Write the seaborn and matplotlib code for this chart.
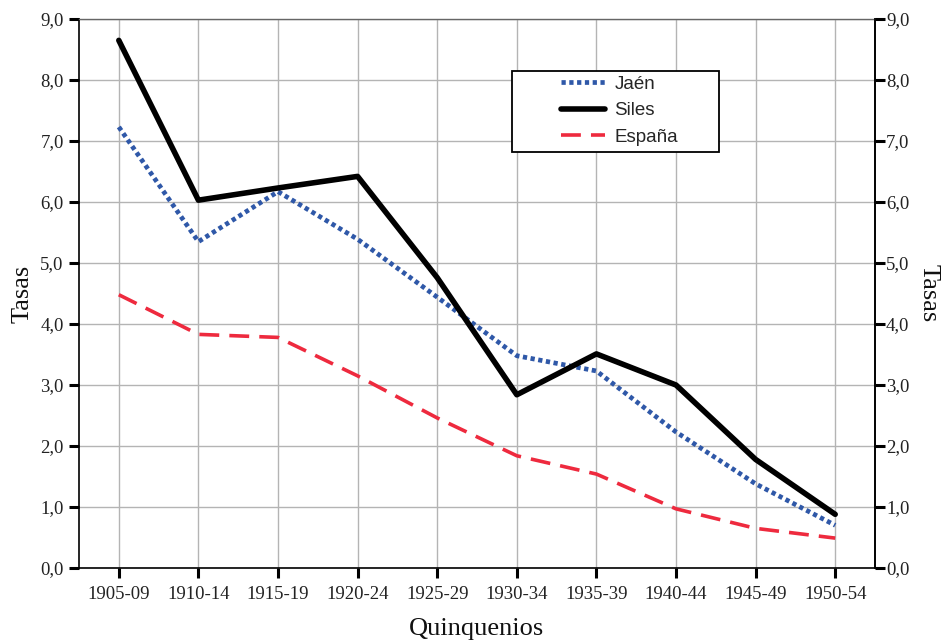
import matplotlib
matplotlib.use("Agg")
import matplotlib.pyplot as plt
from matplotlib.patches import Rectangle
import seaborn as sns
import pandas as pd

periods = ["1905-09", "1910-14", "1915-19", "1920-24", "1925-29",
           "1930-34", "1935-39", "1940-44", "1945-49", "1950-54"]
jaen = [7.23, 5.35, 6.17, 5.39, 4.44, 3.48, 3.23, 2.23, 1.38, 0.70]
siles = [8.65, 6.03, 6.23, 6.42, 4.76, 2.84, 3.51, 3.00, 1.78, 0.88]
espana = [4.48, 3.83, 3.78, 3.15, 2.46, 1.84, 1.54, 0.97, 0.65, 0.49]
yticks = [0, 1, 2, 3, 4, 5, 6, 7, 8, 9]
ytick_labels = ["0,0", "1,0", "2,0", "3,0", "4,0", "5,0", "6,0", "7,0", "8,0", "9,0"]

sns.set_theme(style="white")
plt.rcParams["font.family"] = ["Liberation Serif", "DejaVu Serif"]

fig = plt.figure(figsize=(9.41, 6.42), dpi=100)
ax = fig.add_axes([79/941, 1-568/642, (875-79)/941, (568-19)/642])

df = pd.DataFrame({"periodo": periods, "Jaén": jaen, "Siles": siles, "España": espana})

sns.lineplot(data=df, x="periodo", y="Jaén", ax=ax, color="#2f58a8", lw=3.4,
             label="Jaén", sort=False)
sns.lineplot(data=df, x="periodo", y="Siles", ax=ax, color="#000000", lw=4.0,
             label="Siles", sort=False)
sns.lineplot(data=df, x="periodo", y="España", ax=ax, color="#ee2a3e", lw=2.6,
             label="España", sort=False)
lines = ax.get_lines()
lines[0].set_linestyle((0, (0.9, 0.75)))
lines[0].set_dash_capstyle("butt")
lines[2].set_linestyle((0, (5.5, 2.8)))

ax.set_xlim(-0.5, len(periods) - 0.5)
ax.set_ylim(0, 9)
ax.set_yticks(yticks)
ax.set_yticklabels(ytick_labels)
ax.grid(True, color="#b4b4b4", lw=1.0)
ax.set_axisbelow(True)
for s in ax.spines.values():
    s.set_color("black")
    s.set_linewidth(1.2)
ax.spines["top"].set_color("#666666")
ax.spines["top"].set_linewidth(1.0)
ax.tick_params(axis="both", which="major", direction="out", length=7, width=2.2,
               colors="black", labelsize=13.5, pad=4,
               bottom=True, left=True)
ax.tick_params(axis="x", pad=6)
for t in ax.get_xticklabels() + ax.get_yticklabels():
    t.set_color("#222222")

ax.set_xlabel("Quinquenios", fontsize=19, labelpad=11, color="#111111")
ax.set_ylabel("Tasas", fontsize=19, labelpad=5, color="#111111")

ax2 = ax.twinx()
ax2.set_ylim(0, 9)
ax2.set_yticks(yticks)
ax2.set_yticklabels(ytick_labels)
ax2.tick_params(axis="y", direction="out", length=7, width=2.2, labelsize=13.5,
                right=True, pad=1, colors="black")
for t in ax2.get_yticklabels():
    t.set_color("#222222")
ax2.set_ylabel("Tasas", fontsize=19, rotation=270, labelpad=22, color="#111111")
for s in ax2.spines.values():
    s.set_visible(False)
ax2.spines["right"].set_visible(True)
ax2.spines["right"].set_linewidth(1.2)
ax2.spines["right"].set_color("black")
ax2.grid(False)

# legend: entries without frame, box drawn separately to match reference padding
leg = ax.legend(loc="upper left", bbox_to_anchor=((560 - 79) / 796 - 0.006, (568 - 70) / 549),
                frameon=False,
                prop={"family": "Liberation Sans", "size": 13.5},
                handlelength=2.35, handletextpad=0.5, borderpad=0.3,
                labelspacing=0.5, borderaxespad=0)
frame = Rectangle(((512 - 79) / 796, (568 - 152) / 549),
                  (719 - 512) / 796, (152 - 71) / 549,
                  transform=ax.transAxes, facecolor="white", edgecolor="black",
                  lw=1.3, zorder=4)
ax.add_patch(frame)
leg.set_zorder(5)

fig.savefig("out.png", dpi=100)
